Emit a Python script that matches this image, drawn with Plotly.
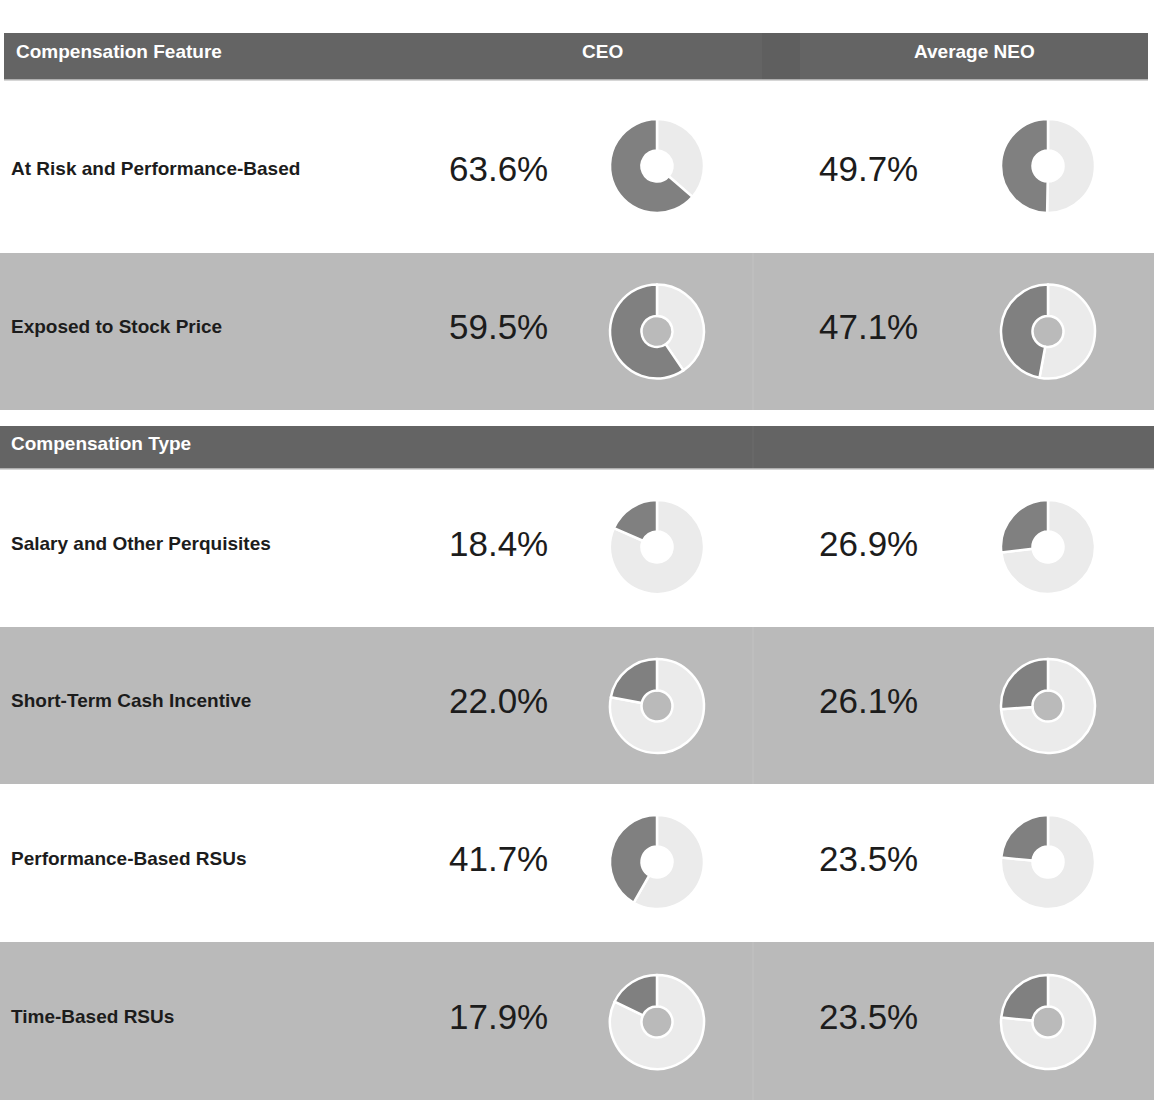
import plotly.graph_objects as go

W, H = 1154, 1100

features = ["At Risk and Performance-Based", "Exposed to Stock Price"]
types = ["Salary and Other Perquisites", "Short-Term Cash Incentive",
         "Performance-Based RSUs", "Time-Based RSUs"]
row_labels = features + types
ceo_values = [63.6, 59.5, 18.4, 22.0, 41.7, 17.9]
neo_values = [49.7, 47.1, 26.9, 26.1, 23.5, 23.5]
column_titles = ["CEO", "Average NEO"]
section_titles = ["Compensation Feature", "Compensation Type"]

# layout (pixel) helpers
row_bounds = [(80, 253), (253, 410), (469, 627), (627, 784), (784, 942), (942, 1100)]
row_fill = ["#ffffff", "#bababa", "#ffffff", "#bababa", "#ffffff", "#bababa"]
DARK = "#808080"
LIGHT = "#ebebeb"
HEADER = "#646464"
TEXT = "#1c1c1c"
FONT = "Liberation Sans, Arial, sans-serif"

def px(x):
    return x / W

def py(y):
    return 1 - y / H

shapes = []
annotations = []

def rect(x0, y0, x1, y1, color):
    shapes.append(dict(type="rect", xref="paper", yref="paper",
                       x0=px(x0), x1=px(x1), y0=py(y1), y1=py(y0),
                       fillcolor=color, line=dict(width=0), layer="below"))

# header bars
rect(4, 33, 1148, 80, HEADER)
rect(762, 33, 800, 80, "#5f5f5f")
shapes.append(dict(type="line", xref="paper", yref="paper", x0=px(4), x1=px(1148),
                   y0=py(80), y1=py(80), line=dict(color="#c8c8c8", width=1.5)))
rect(0, 426, 1154, 469, HEADER)
shapes.append(dict(type="line", xref="paper", yref="paper", x0=px(753), x1=px(753),
                   y0=py(469), y1=py(426), line=dict(color="#6c6c6c", width=1)))
shapes.append(dict(type="line", xref="paper", yref="paper", x0=0, x1=1,
                   y0=py(469), y1=py(469), line=dict(color="#c8c8c8", width=1.5)))

# row backgrounds
for (y0, y1), c in zip(row_bounds, row_fill):
    if c != "#ffffff":
        rect(0, y0, 1154, y1, c)
        shapes.append(dict(type="line", xref="paper", yref="paper", x0=px(753), x1=px(753),
                           y0=py(y1), y1=py(y0), line=dict(color="#c2c2c2", width=1)))

def text(x, y, s, size, color, bold=False, xanchor="left"):
    annotations.append(dict(x=px(x), y=py(y), xref="paper", yref="paper",
                            text=f"<b>{s}</b>" if bold else s, showarrow=False,
                            xanchor=xanchor, yanchor="middle",
                            font=dict(family=FONT, size=size, color=color)))

text(14, 51, section_titles[0], 19, "white", bold=True)
text(602, 51, column_titles[0], 19, "white", bold=True, xanchor="center")
text(974, 51, column_titles[1], 19, "white", bold=True, xanchor="center")
text(9, 443, section_titles[1], 19, "white", bold=True)

fig = go.Figure()
R = 47
pie_offsets = [-0.5, 0, -1, 0.5, -1, 1]
for i, label in enumerate(row_labels):
    y0, y1 = row_bounds[i]
    cy = (y0 + y1) / 2 + pie_offsets[i]
    ty = y1 - 84
    text(9, ty, label, 19, TEXT, bold=True)
    for cx_text, cx_pie, vals in ((498, 657, ceo_values), (868, 1048, neo_values)):
        v = vals[i]
        text(cx_text, ty, f"{v:.1f}%", 35, TEXT, xanchor="center")
        # remainder first (clockwise from 12 o'clock), so the share ends at 12 o'clock on the left
        fig.add_trace(go.Pie(
            values=[100 - v, v], labels=["rest", "share"], sort=False,
            direction="clockwise", rotation=0, hole=0.33,
            textinfo="none", hoverinfo="skip", showlegend=False,
            marker=dict(colors=[LIGHT, DARK], line=dict(color="white", width=2.5)),
            domain=dict(x=[px(cx_pie - R), px(cx_pie + R)], y=[py(cy + R), py(cy - R)]),
        ))

fig.update_layout(width=W, height=H, autosize=False,
                  margin=dict(l=0, r=0, t=0, b=0),
                  paper_bgcolor="white", plot_bgcolor="white",
                  shapes=shapes, annotations=annotations)

fig.write_html("out.html", config={"displayModeBar": False},
               post_script="document.body.style.margin='0';document.body.style.overflow='hidden';")
